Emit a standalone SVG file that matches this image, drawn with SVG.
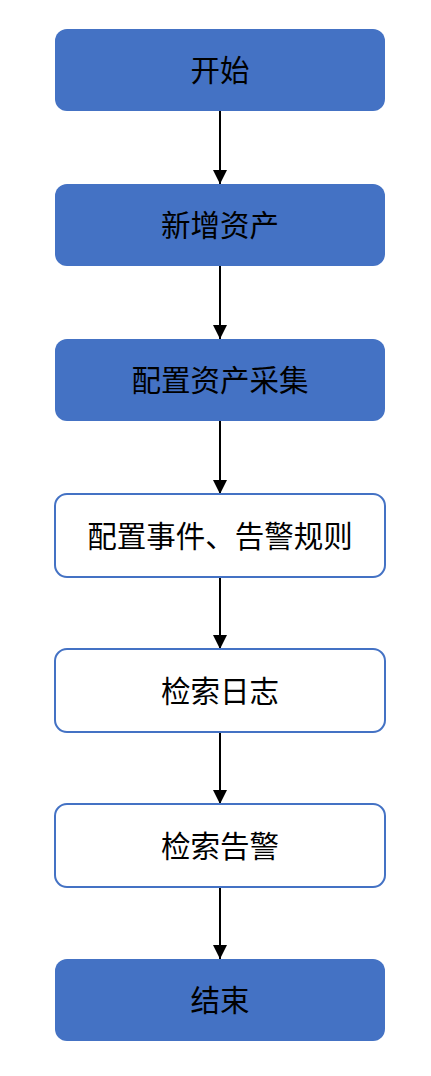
<svg xmlns="http://www.w3.org/2000/svg" width="431" height="1076" viewBox="0 0 431 1076">
<defs>
<style>
.filled{fill:#4472C4;stroke:none}
.outlined{fill:#ffffff;stroke:#4472C4;stroke-width:2}
.label{font-family:"Noto Sans CJK SC","Noto Sans",sans-serif;font-size:29.5px;fill:#000000;text-anchor:middle;dominant-baseline:central}
.conn{stroke:#000000;stroke-width:2;fill:none}
</style>
<marker id="arrow" markerWidth="14" markerHeight="16" refX="14" refY="7" orient="auto" markerUnits="userSpaceOnUse" viewBox="0 0 14 14">
<path d="M0,0 L14,7 L0,14 Z" fill="#000000"/>
</marker>
</defs>
<rect width="431" height="1076" fill="#ffffff"/>
<g id="connectors">
<line class="conn" x1="220" y1="111" x2="220" y2="184" marker-end="url(#arrow)"/>
<line class="conn" x1="220" y1="266" x2="220" y2="339" marker-end="url(#arrow)"/>
<line class="conn" x1="220" y1="421" x2="220" y2="494" marker-end="url(#arrow)"/>
<line class="conn" x1="220" y1="577" x2="220" y2="649" marker-end="url(#arrow)"/>
<line class="conn" x1="220" y1="732" x2="220" y2="804" marker-end="url(#arrow)"/>
<line class="conn" x1="220" y1="887" x2="220" y2="959" marker-end="url(#arrow)"/>
</g>
<g id="start"><rect class="filled" x="55" y="29" width="330" height="82" rx="12"/><text class="label" x="220" y="68">开始</text></g>
<g id="add-asset"><rect class="filled" x="55" y="184" width="330" height="82" rx="12"/><text class="label" x="220" y="223">新增资产</text></g>
<g id="config-collect"><rect class="filled" x="55" y="339" width="330" height="82" rx="12"/><text class="label" x="220" y="378">配置资产采集</text></g>
<g id="config-rules"><rect class="outlined" x="55" y="494" width="330" height="83" rx="12"/><text class="label" x="220" y="533.5">配置事件、告警规则</text></g>
<g id="search-logs"><rect class="outlined" x="55" y="649" width="330" height="83" rx="12"/><text class="label" x="220" y="688.5">检索日志</text></g>
<g id="search-alerts"><rect class="outlined" x="55" y="804" width="330" height="83" rx="12"/><text class="label" x="220" y="843.5">检索告警</text></g>
<g id="end"><rect class="filled" x="55" y="959" width="330" height="82" rx="12"/><text class="label" x="220" y="998">结束</text></g>
</svg>
